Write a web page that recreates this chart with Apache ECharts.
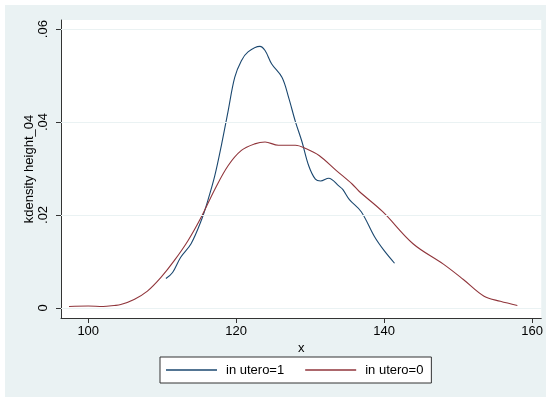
<!DOCTYPE html>
<html>
<head>
<meta charset="utf-8">
<script src="https://cdn.jsdelivr.net/npm/echarts@6/dist/echarts.min.js"></script>
<style>
html,body{margin:0;padding:0;background:#ffffff;}
#wrap{position:relative;width:546px;height:397px;background:#ffffff;overflow:hidden;}
#chart{position:absolute;left:5px;top:5px;width:541px;height:392px;background:#eaf2f3;}
</style>
</head>
<body>
<div id="wrap"><div id="chart"></div></div>
<script>
const xTicks = [100, 120, 140, 160];
const yTicks = [0, 0.02, 0.04, 0.06];
const yTickLabels = ['0', '.02', '.04', '.06'];

const seriesNames = ['in utero=1', 'in utero=0'];

const blueX = [110.5,111.4,112.5,113.9,115.3,116.2,117.1,118.0,118.9,119.8,120.7,121.6,123.2,123.9,124.8,126.2,127.1,128.0,128.9,129.8,130.7,131.4,132.5,133.9,134.4,135.3,136.9,138.7,140.0,141.4];
const blueY = [0.0063,0.0076,0.0109,0.0138,0.0189,0.0233,0.0284,0.0350,0.0423,0.0496,0.0532,0.0551,0.0563,0.0554,0.0525,0.0496,0.0452,0.0401,0.0357,0.0306,0.0277,0.0273,0.0279,0.0262,0.0255,0.0233,0.0207,0.0153,0.0123,0.0096];

const redX = [97.4,100.0,102.0,103.5,104.4,106.2,108.0,109.8,111.6,113.5,115.3,117.1,118.9,120.7,122.5,123.9,125.7,128.0,129.4,131.2,133.5,135.7,136.6,139.8,143.9,148.0,150.7,153.5,155.7,158.0];
const redY = [0.0003,0.0004,0.0003,0.0005,0.0007,0.0018,0.0036,0.0065,0.0101,0.0145,0.0196,0.0255,0.0306,0.0339,0.0353,0.0357,0.0350,0.0350,0.0343,0.0328,0.0296,0.0266,0.0251,0.0207,0.0138,0.0094,0.0061,0.0025,0.0014,0.0005];

const zip = (xs, ys) => xs.map((x, i) => [x, ys[i]]);
const FONT = '"Liberation Sans", Arial, sans-serif';

const chart = echarts.init(document.getElementById('chart'), null, {renderer: 'canvas'});
chart.setOption({
  animation: false,
  backgroundColor: '#eaf2f3',
  grid: {
    left: 56, right: 4, top: 15, bottom: 79,
    show: true, backgroundColor: '#ffffff', borderWidth: 0
  },
  xAxis: {
    type: 'value',
    min: 96.32, max: 161.23,
    name: 'x', nameLocation: 'middle', nameGap: 24, nameMoveOverlap: false,
    nameTextStyle: {fontFamily: FONT, fontSize: 13, color: '#000'},
    axisLine: {show: true, onZero: false, lineStyle: {color: '#333', width: 1}},
    axisTick: {show: true, length: 5, customValues: xTicks, lineStyle: {color: '#333'}},
    axisLabel: {customValues: xTicks, margin: 7, fontFamily: FONT, fontSize: 13, color: '#000'},
    splitLine: {show: false}
  },
  yAxis: {
    type: 'value',
    min: -0.00219, max: 0.06197,
    name: 'kdensity height_04', nameLocation: 'middle', nameGap: 25, nameMoveOverlap: false,
    nameTextStyle: {fontFamily: FONT, fontSize: 13, color: '#000'},
    axisLine: {show: true, onZero: false, lineStyle: {color: '#333', width: 1}},
    axisTick: {show: true, length: 5, customValues: yTicks, lineStyle: {color: '#333'}},
    axisLabel: {
      customValues: yTicks, rotate: 90, margin: 11,
      fontFamily: FONT, fontSize: 13, color: '#000',
      formatter: v => { const i = yTicks.findIndex(t => Math.abs(t - v) < 1e-9); return i >= 0 ? yTickLabels[i] : ''; }
    },
    splitLine: {show: false}
  },
  legend: {
    data: seriesNames.map(n => ({name: n, icon: 'rect'})),
    left: 155, top: 352,
    orient: 'horizontal',
    backgroundColor: '#ffffff',
    borderColor: '#333', borderWidth: 1,
    padding: [6, 8, 6, 6],
    itemWidth: 51, itemHeight: 1.3, itemGap: 21,
    textStyle: {fontFamily: FONT, fontSize: 13, color: '#000', padding: [0, 0, 0, 4], height: 14, lineHeight: 14}
  },
  series: [
    {
      name: 'grid', type: 'line', data: [], silent: true,
      markLine: {
        silent: true, symbol: 'none', label: {show: false},
        lineStyle: {color: '#eaf2f3', type: 'solid', width: 1},
        data: yTicks.map(v => ({yAxis: v}))
      }
    },
    {
      name: seriesNames[0], type: 'line', showSymbol: false, symbol: 'none', smooth: 0.35,
      data: zip(blueX, blueY),
      lineStyle: {color: '#1a476f', width: 1.1}, itemStyle: {color: '#1a476f'}
    },
    {
      name: seriesNames[1], type: 'line', showSymbol: false, symbol: 'none', smooth: 0.35,
      data: zip(redX, redY),
      lineStyle: {color: '#90353b', width: 1.1}, itemStyle: {color: '#90353b'}
    }
  ]
});
</script>
</body>
</html>
